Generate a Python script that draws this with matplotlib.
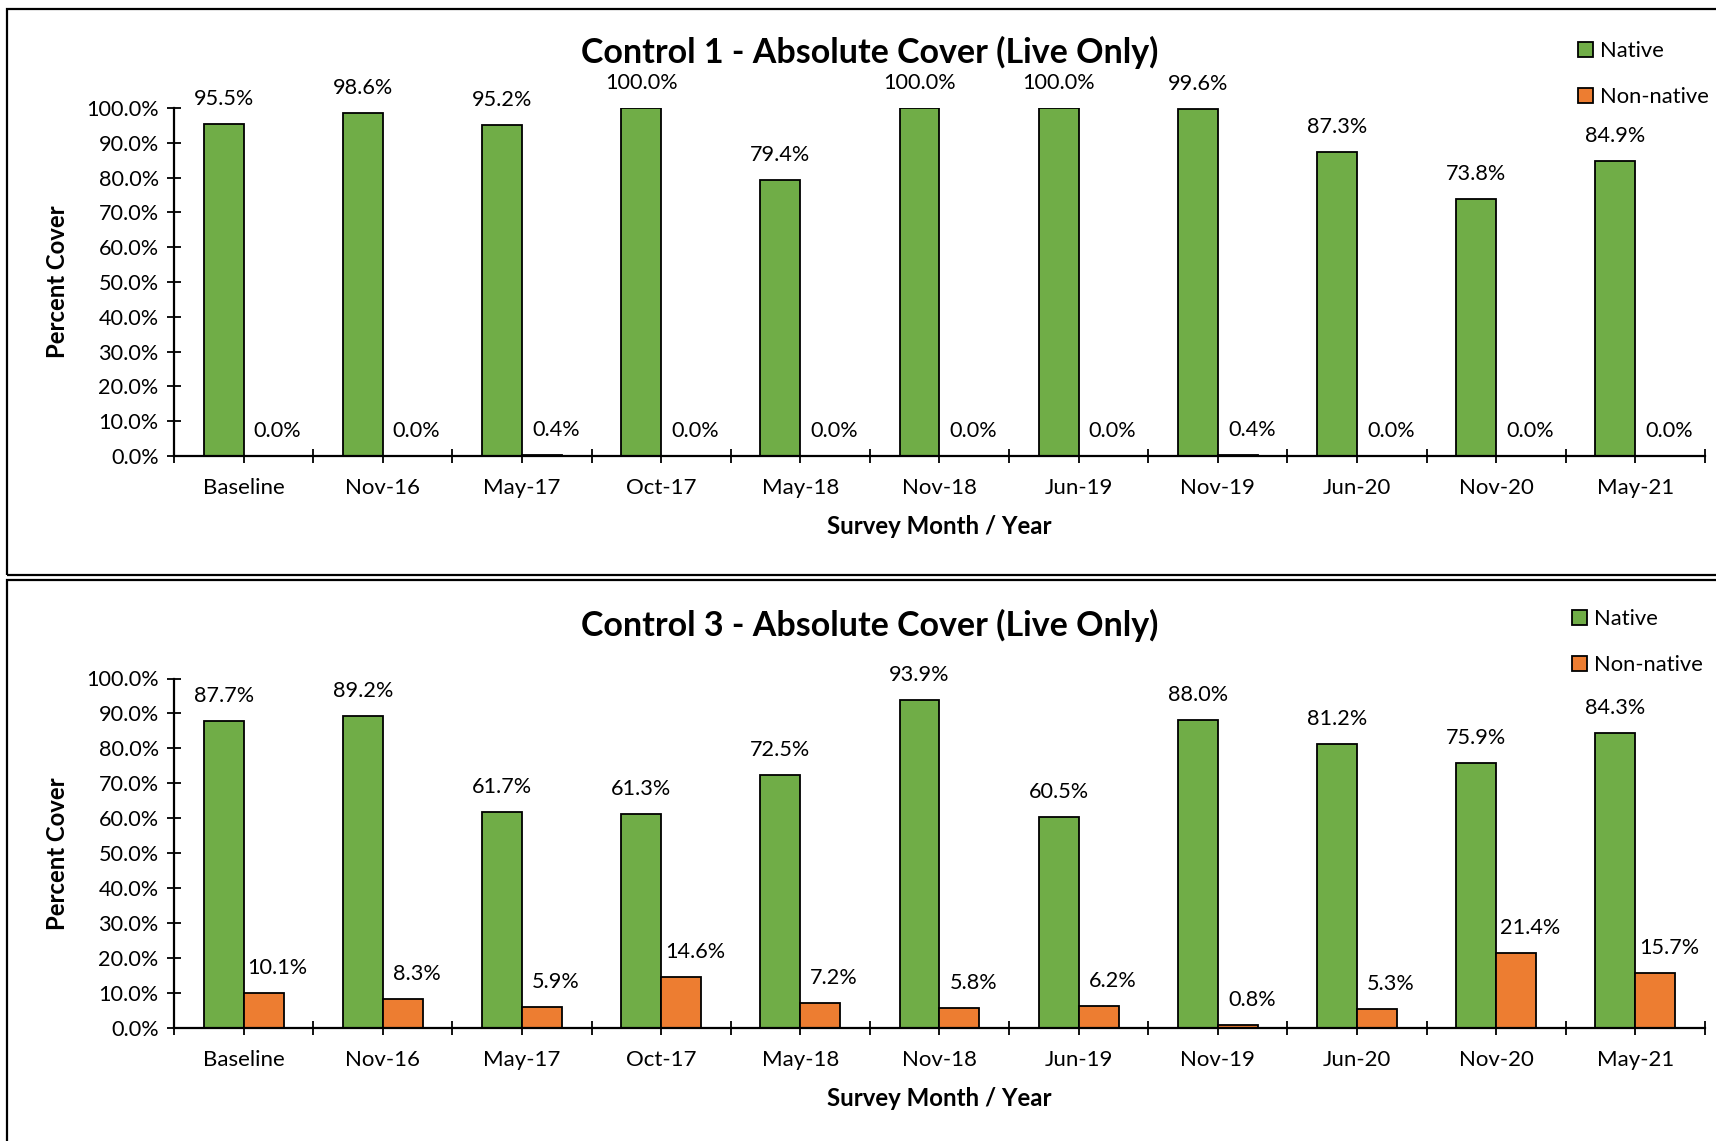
import matplotlib
matplotlib.use("Agg")
import matplotlib.pyplot as plt
from matplotlib.patches import Rectangle, Patch
from matplotlib.ticker import FixedLocator, PercentFormatter
import numpy as np

plt.rcParams['font.family'] = ['Lato', 'DejaVu Sans']

surveys = ["Baseline", "Nov-16", "May-17", "Oct-17", "May-18", "Nov-18",
           "Jun-19", "Nov-19", "Jun-20", "Nov-20", "May-21"]

control1_native = [95.5, 98.6, 95.2, 100.0, 79.4, 100.0, 100.0, 99.6, 87.3, 73.8, 84.9]
control1_nonnative = [0.0, 0.0, 0.4, 0.0, 0.0, 0.0, 0.0, 0.4, 0.0, 0.0, 0.0]

control3_native = [87.7, 89.2, 61.7, 61.3, 72.5, 93.9, 60.5, 88.0, 81.2, 75.9, 84.3]
control3_nonnative = [10.1, 8.3, 5.9, 14.6, 7.2, 5.8, 6.2, 0.8, 5.3, 21.4, 15.7]

titles = ["Control 1 - Absolute Cover (Live Only)",
          "Control 3 - Absolute Cover (Live Only)"]

GREEN = "#70AD47"
ORANGE = "#ED7D31"

W, H = 1716, 1141
fig = plt.figure(figsize=(W / 100, H / 100), dpi=100)

# panel frames (each chart sits in its own bordered box)
for (x0, y0, x1, y1) in [(7, 9, 1730, 575), (7, 580, 1730, 1160)]:
    fig.patches.append(Rectangle((x0 / W, 1 - y1 / H), (x1 - x0) / W, (y1 - y0) / H,
                                 transform=fig.transFigure, fill=False,
                                 edgecolor="black", linewidth=1.6, zorder=0))


def draw_panel(rect, title, title_y, native, nonnative, legend_xy):
    ax = fig.add_axes(rect)
    n = len(surveys)
    x = np.arange(n)
    bw = 0.287
    ax.bar(x - bw / 2, np.array(native) / 100, bw, color=GREEN,
           edgecolor="black", linewidth=1.3, zorder=2)
    ax.bar(x + bw / 2, np.array(nonnative) / 100, bw, color=ORANGE,
           edgecolor="black", linewidth=1.3, zorder=2)

    for xi, v in zip(x, native):
        ax.annotate(f"{v:.1f}%", (xi - bw / 2, v / 100), xytext=(0, 18),
                    textcoords="offset points", ha="center", va="center",
                    fontsize=15.6)
    for xi, v in zip(x, nonnative):
        ax.annotate(f"{v:.1f}%", (xi + bw / 2, v / 100), xytext=(10, 18),
                    textcoords="offset points", ha="center", va="center",
                    fontsize=15.6)

    ax.set_xlim(-0.5, n - 0.5)
    ax.set_ylim(0, 1.0)
    ax.yaxis.set_major_locator(FixedLocator(np.arange(0, 1.0001, 0.1)))
    ax.yaxis.set_major_formatter(PercentFormatter(1.0, decimals=1))

    ax.xaxis.set_major_locator(FixedLocator(np.arange(-0.5, n, 1.0)))
    ax.xaxis.set_minor_locator(FixedLocator(x))
    ax.set_xticklabels([])
    ax.set_xticks(x, surveys, minor=True)

    for s in ["top", "right"]:
        ax.spines[s].set_visible(False)
    for s in ["left", "bottom"]:
        ax.spines[s].set_linewidth(1.6)
        ax.spines[s].set_zorder(3)

    ax.tick_params(axis="y", which="major", direction="inout", length=10,
                   width=1.3, labelsize=15.6, pad=6)
    ax.tick_params(axis="x", which="major", direction="inout", length=10,
                   width=1.3)
    ax.tick_params(axis="x", which="minor", direction="out", length=5,
                   width=1.3, labelsize=16, pad=11)

    ax.set_ylabel("Percent Cover", fontsize=17.2, fontweight="bold", labelpad=12)
    ax.set_xlabel("Survey Month / Year", fontsize=17.3, fontweight="bold", labelpad=12)

    fig.text(0.507, title_y, title, ha="center", va="center",
             fontsize=24.5, fontweight="bold")

    handles = [Patch(facecolor=GREEN, edgecolor="black", linewidth=1.3),
               Patch(facecolor=ORANGE, edgecolor="black", linewidth=1.3)]
    fig.legend(handles, ["Native", "Non-native"], loc="upper left",
               bbox_to_anchor=legend_xy, bbox_transform=fig.transFigure,
               frameon=False, fontsize=15.8, handlelength=0.7,
               handleheight=0.7, handletextpad=0.3, labelspacing=1.2,
               borderaxespad=0, borderpad=0)
    return ax


draw_panel([174 / W, 1 - 456 / H, 1531 / W, 348 / H], titles[0], 1 - 52 / H,
           control1_native, control1_nonnative, (1578 / W, 1 - 41 / H))
draw_panel([174 / W, 1 - 1028 / H, 1531 / W, 349.5 / H], titles[1], 1 - 625 / H,
           control3_native, control3_nonnative, (1572 / W, 1 - 609 / H))

fig.savefig("out.png", dpi=100)
